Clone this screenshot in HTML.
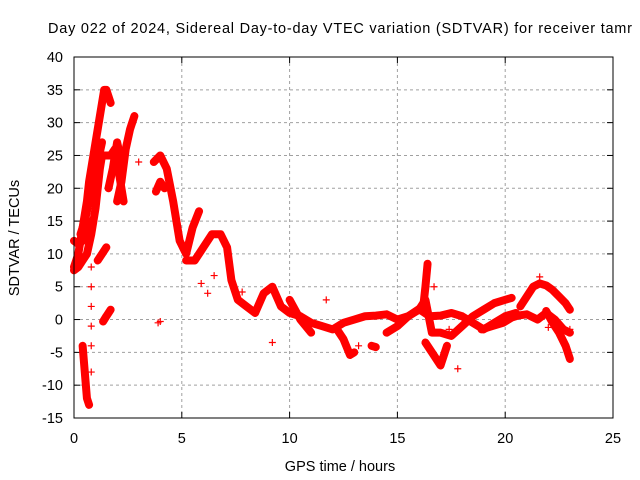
<!DOCTYPE html>
<html><head><meta charset="utf-8"><style>
body{margin:0;background:#fff}
svg{display:block;font-family:"Liberation Sans",sans-serif}
</style></head><body>
<svg id="chart" width="640" height="480" viewBox="0 0 640 480">
<rect width="640" height="480" fill="#fff"/>
<text x="48" y="33" font-size="14.5" textLength="584" lengthAdjust="spacing">Day 022 of 2024, Sidereal Day-to-day VTEC variation (SDTVAR) for receiver tamr</text>
<g id="grid"></g>
<g id="ticks"></g>
<g id="marks"></g>
<rect x="74" y="57" width="539" height="361" fill="none" stroke="#000" stroke-width="1"/>
<text x="340" y="471" font-size="14.5" text-anchor="middle">GPS time / hours</text>
<text transform="translate(19,238) rotate(-90)" font-size="14.5" text-anchor="middle">SDTVAR / TECUs</text>
</svg>
<script>
const xTicks=[0,5,10,15,20,25];
const yTicks=[-15,-10,-5,0,5,10,15,20,25,30,35,40];
const trackA_t=[0,0.1,0.2,0.3,0.4,0.5,0.6,0.7,0.8,0.9,1.0,1.1,1.2,1.3,1.4,1.5,1.6,1.7];
const trackA_v=[8,9,10,12,14,16,18,21,23,25,27,29,31,33,35,35,34,33];
const trackA2_t=[0.3,0.5,0.7,0.9,1.1,1.3];
const trackA2_v=[13,15,18,21,24,27];
const trackB_t=[0,0.2,0.4,0.6,0.8,1.0,1.1,1.2,1.3,1.5,1.7,1.9,2.0,2.1,2.2,2.3];
const trackB_v=[7.5,8,9,10,13,17,20,23,25,25,25,26,25,22,20,18];
const trackB2_t=[0,0.2,0.4,0.6,0.8];
const trackB2_v=[12,11.5,12,13,15];
const trackE_t=[1.6,1.8,2.0,2.2];
const trackE_v=[20,23,27,24];
const trackF_t=[2.0,2.2,2.4,2.6,2.8];
const trackF_v=[18,21,26,29,31];
const trackG_t=[1.1,1.3,1.5];
const trackG_v=[9,10,11];
const trackH_t=[1.35,1.5,1.7];
const trackH_v=[-0.3,0.5,1.5];
const trackN_t=[0.4,0.5,0.6,0.7];
const trackN_v=[-4,-8,-12,-13];
const trackC_t=[3.7,4.0,4.3,4.6,4.9,5.2,5.5,5.8];
const trackC_v=[24,25,23,18,12,10,14,16.5];
const trackC2_t=[3.8,4.0,4.2];
const trackC2_v=[19.5,21,20];
const trackD_t=[5.2,5.6,6.0,6.4,6.8,7.1,7.3,7.6,8.0,8.4,8.8,9.2,9.6,10.0,10.5,11.0,11.5,12.0,12.5,13.0,13.5,14.0,14.5,15.0,15.5,16.0,16.5,17.0,17.5,18.0,18.5,19.0,19.5,20.0,20.5];
const trackD_v=[9,9,11,13,13,11,6,3,2,1,4,5,2,1,0.5,-0.5,-1,-1.5,-0.5,0,0.5,0.6,0.8,0,0.5,1.6,0.5,0.6,1,0.5,-0.5,-1.5,-0.5,0.5,1];
const trackP_t=[14.5,15.0,15.5,16.0,16.3,16.6,17.0,17.5,18.0,18.5,19.0,19.5,20.0,20.3];
const trackP_v=[-2,-1,0.5,1.5,3,-2,-2,-2.5,-1,0.5,1.5,2.5,3,3.3];
const trackU_t=[20.7,21.0,21.3,21.6,21.9,22.2,22.5,22.8,23.0];
const trackU_v=[2,3.5,5,5.5,5.2,4.5,3.5,2.5,1.5];
const trackL_t=[18.9,19.4,19.9,20.3,20.6,21.0,21.5,21.9,22.3,22.7,23.0];
const trackL_v=[-1.5,-1,-0.5,0.3,0.6,0.8,0,1,0,-1.5,-2];
const trackR_t=[21.9,22.2,22.5,22.8,23.0];
const trackR_v=[1.3,-0.5,-2,-4,-6];
const trackV_t=[16.3,16.6,17.0,17.3];
const trackV_v=[-3.5,-5,-7,-4];
const trackS_t=[16.2,16.3,16.4];
const trackS_v=[2,5,8.5];
const trackK_t=[12.2,12.5,12.8,13.0];
const trackK_v=[-1.5,-3,-5.4,-5];
const trackW_t=[10.0,10.5,11.0];
const trackW_v=[3,0,-2];
const trackZ_t=[13.8,14.0];
const trackZ_v=[-4,-4.2];
const single_t=[0.8,0.8,0.8,0.8,0.8,0.8,3.0,3.9,4.0,5.9,6.2,6.5,7.8,9.2,11.7,13.2,17.8,16.7,17.4,21.6,22.0,23.0];
const single_v=[8,5,2,-1,-4,-8,24,-0.5,-0.3,5.5,4,6.7,4.2,-3.5,3,-4,-7.5,5,-1.5,6.5,-1.2,-1.5];
const tracks=[[trackA_t,trackA_v],[trackA2_t,trackA2_v],[trackB_t,trackB_v],[trackB2_t,trackB2_v],[trackE_t,trackE_v],[trackF_t,trackF_v],[trackG_t,trackG_v],[trackH_t,trackH_v],[trackN_t,trackN_v],[trackC_t,trackC_v],[trackC2_t,trackC2_v],[trackD_t,trackD_v],[trackP_t,trackP_v],[trackU_t,trackU_v],[trackL_t,trackL_v],[trackR_t,trackR_v],[trackV_t,trackV_v],[trackS_t,trackS_v],[trackK_t,trackK_v],[trackW_t,trackW_v],[trackZ_t,trackZ_v]];
const X0=74,X1=613,Y0=418,Y1=57;
function xs(t){return X0+(t-0)/(25-0)*(X1-X0);}
function ys(v){return Y0-(v+15)/(40+15)*(Y0-Y1);}
const NS="http://www.w3.org/2000/svg";
const grid=document.getElementById('grid'),ticks=document.getElementById('ticks'),marks=document.getElementById('marks'),svg=document.getElementById('chart');
function mk(tag,attrs,parent){const e=document.createElementNS(NS,tag);for(const k in attrs)e.setAttribute(k,attrs[k]);parent.appendChild(e);return e;}
xTicks.forEach(t=>{
  const x=xs(t);
  if(t>0&&t<25){const g=mk('line',{x1:x,y1:Y1,x2:x,y2:Y0,stroke:'#a0a0a0','stroke-dasharray':'3,3'},grid);
  
  }
  mk('line',{x1:x,y1:Y0,x2:x,y2:Y0-6,stroke:'#000'},ticks);
  mk('line',{x1:x,y1:Y1,x2:x,y2:Y1+6,stroke:'#000'},ticks);
  const l=mk('text',{x:x,y:443,'font-size':14.5,'text-anchor':'middle'},svg);
  l.textContent=t;
  
  
});
yTicks.forEach(v=>{
  const y=ys(v);
  if(v>-15&&v<40){const g=mk('line',{x1:X0,y1:y,x2:X1,y2:y,stroke:'#a0a0a0','stroke-dasharray':'3,3'},grid);
  
  }
  mk('line',{x1:X0,y1:y,x2:X0+6,y2:y,stroke:'#000'},ticks);
  mk('line',{x1:X1,y1:y,x2:X1-6,y2:y,stroke:'#000'},ticks);
  const l=mk('text',{x:63,y:y+5,'font-size':14.5,'text-anchor':'end'},svg);
  l.textContent=v;
  
  
});
function plus(t,v){
  const x=xs(t),y=ys(v);
  const p=mk('path',{d:`M${x-3.5},${y}H${x+3.5}M${x},${y-3.5}V${y+3.5}`,stroke:'#f00','stroke-width':1.2},marks);
  
  
}
tracks.forEach(([T,V])=>{
  const pts=T.map((t,i)=>xs(t)+','+ys(V[i])).join(' ');
  const pl=mk('polyline',{points:pts,fill:'none',stroke:'#f00','stroke-width':8,'stroke-linejoin':'round','stroke-linecap':'round'},marks);
  
  
  T.forEach((t,i)=>plus(t,V[i]));
});
single_t.forEach((t,i)=>plus(t,single_v[i]));
</script>
</body></html>
